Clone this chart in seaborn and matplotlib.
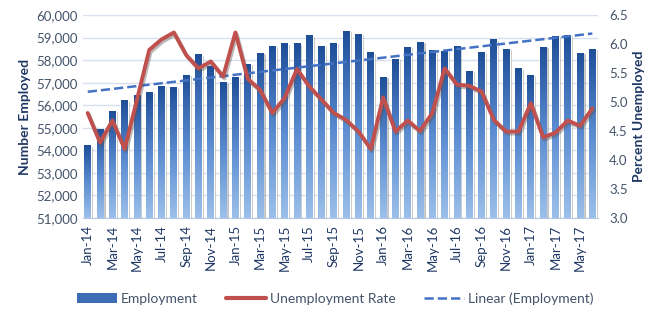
import matplotlib
matplotlib.use('Agg')
import matplotlib.pyplot as plt
import matplotlib.patheffects as pe
from matplotlib.colors import LinearSegmentedColormap
from matplotlib.lines import Line2D
from matplotlib.patches import Patch
import numpy as np
import pandas as pd
import seaborn as sns

months = list(pd.date_range('2014-01-01', '2017-06-01', freq='MS').strftime('%b-%y'))

employment = [54230, 54960, 55740, 56210, 56460, 56590, 56870, 56810, 57350, 58260,
              57760, 57010, 57260, 57850, 58320, 58640, 58750, 58750, 59100, 58640,
              58780, 59310, 59170, 58350, 57270, 58050, 58600, 58820, 58450, 58420,
              58640, 57540, 58350, 58920, 58500, 57640, 57350, 58600, 59070, 59120,
              58330, 58500]

unemployment = [4.81, 4.30, 4.68, 4.19, 5.04, 5.90, 6.08, 6.20, 5.81, 5.58,
                5.70, 5.44, 6.20, 5.40, 5.21, 4.81, 5.07, 5.57, 5.27, 5.04,
                4.81, 4.69, 4.49, 4.19, 5.08, 4.49, 4.68, 4.50, 4.81, 5.58,
                5.30, 5.28, 5.18, 4.69, 4.49, 4.49, 4.98, 4.39, 4.47, 4.68,
                4.59, 4.89]

NAVY = '#1F3864'
TICK = '#44546A'
RED = '#C0504D'
BLUE = '#4472C4'

sns.set_style('white')
plt.rcParams['font.family'] = ['Lato', 'DejaVu Sans']

df = pd.DataFrame({'month': months, 'employment': employment,
                   'rate': unemployment, 'idx': np.arange(len(months))})

fig = plt.figure(figsize=(6.52, 3.14), dpi=100)
ax = fig.add_axes([0.127, 0.306, 0.79, 0.646])

ax.yaxis.grid(True, color='#D6E0EF', lw=1)
ax.set_axisbelow(True)

sns.barplot(data=df, x='month', y='employment', color='#2E5FA8', width=0.55,
            ax=ax, zorder=2)

# vertical gradient on each bar, dark on top
cmap = LinearSegmentedColormap.from_list('bars', ['#9CC0EA', '#5A8BD0', '#1F4E99'])
grad = np.linspace(0, 1, 128).reshape(-1, 1)
for bar in ax.patches:
    bar.set_path_effects([pe.SimplePatchShadow(offset=(1.5, -1), shadow_rgbFace='#777777', alpha=0.45),
                          pe.Normal()])
    x0, y0 = bar.get_x(), 51000
    x1, y1 = x0 + bar.get_width(), bar.get_height()
    im = ax.imshow(grad, cmap=cmap, origin='lower', aspect='auto',
                   extent=[x0, x1, y0, y1], zorder=3)
    im.set_clip_path(bar)

sns.regplot(x=df['idx'], y=df['employment'], ax=ax, scatter=False, ci=None,
            line_kws=dict(ls='--', color=BLUE, lw=1.8, zorder=4))

ax.set_ylim(51000, 60000)
ax.set_yticks(np.arange(51000, 60001, 1000))
ax.set_yticklabels([f'{v:,}' for v in range(51000, 60001, 1000)])
ax.set_xlim(-0.4, 41.45)
ax.set_xticks(df['idx'][::2])
ax.set_xticklabels(df['month'][::2], rotation=90, color=NAVY, fontsize=9.5)
ax.set_xlabel('')
ax.set_ylabel('Number Employed', color=NAVY, fontsize=10, fontweight='bold')
ax.tick_params(axis='y', colors=TICK, labelsize=9.5, length=0)
ax.tick_params(axis='x', colors='#B4C7E7', labelcolor=NAVY, length=3, width=0.8, pad=2)
for side in ['top', 'left', 'right']:
    ax.spines[side].set_visible(False)
ax.spines['bottom'].set_color('#B4C7E7')

ax2 = ax.twinx()
sns.lineplot(x=df['idx'], y=df['rate'], ax=ax2, color=RED, lw=2.8,
             path_effects=[pe.SimpleLineShadow(offset=(1, -1.5), shadow_color='#555555', alpha=0.4),
                           pe.Normal()])
ax2.set_ylim(3.0, 6.5)
ax2.set_yticks(np.arange(3.0, 6.51, 0.5))
ax2.set_yticklabels([f'{v:.1f}' for v in np.arange(3.0, 6.51, 0.5)])
ax2.set_ylabel('Percent Unemployed', color=NAVY, fontsize=10, fontweight='bold')
ax2.tick_params(axis='y', colors=TICK, labelsize=9.5, length=0, pad=8)
ax2.set_xlim(-0.4, 41.45)
for side in ['top', 'left', 'right', 'bottom']:
    ax2.spines[side].set_visible(False)

handles = [Patch(facecolor='#3E6DB6', edgecolor='none'),
           Line2D([], [], color=RED, lw=3),
           Line2D([], [], color=BLUE, lw=1.8, ls='--')]
labels = ['Employment', 'Unemployment Rate', 'Linear (Employment)']
leg = fig.legend(handles, labels, loc='center', bbox_to_anchor=(0.514, 0.05), ncol=3,
                 frameon=False, fontsize=10, handlelength=2.9, columnspacing=2.0,
                 handletextpad=0.3)
for t in leg.get_texts():
    t.set_color(TICK)

fig.savefig('out.png', dpi=100)
